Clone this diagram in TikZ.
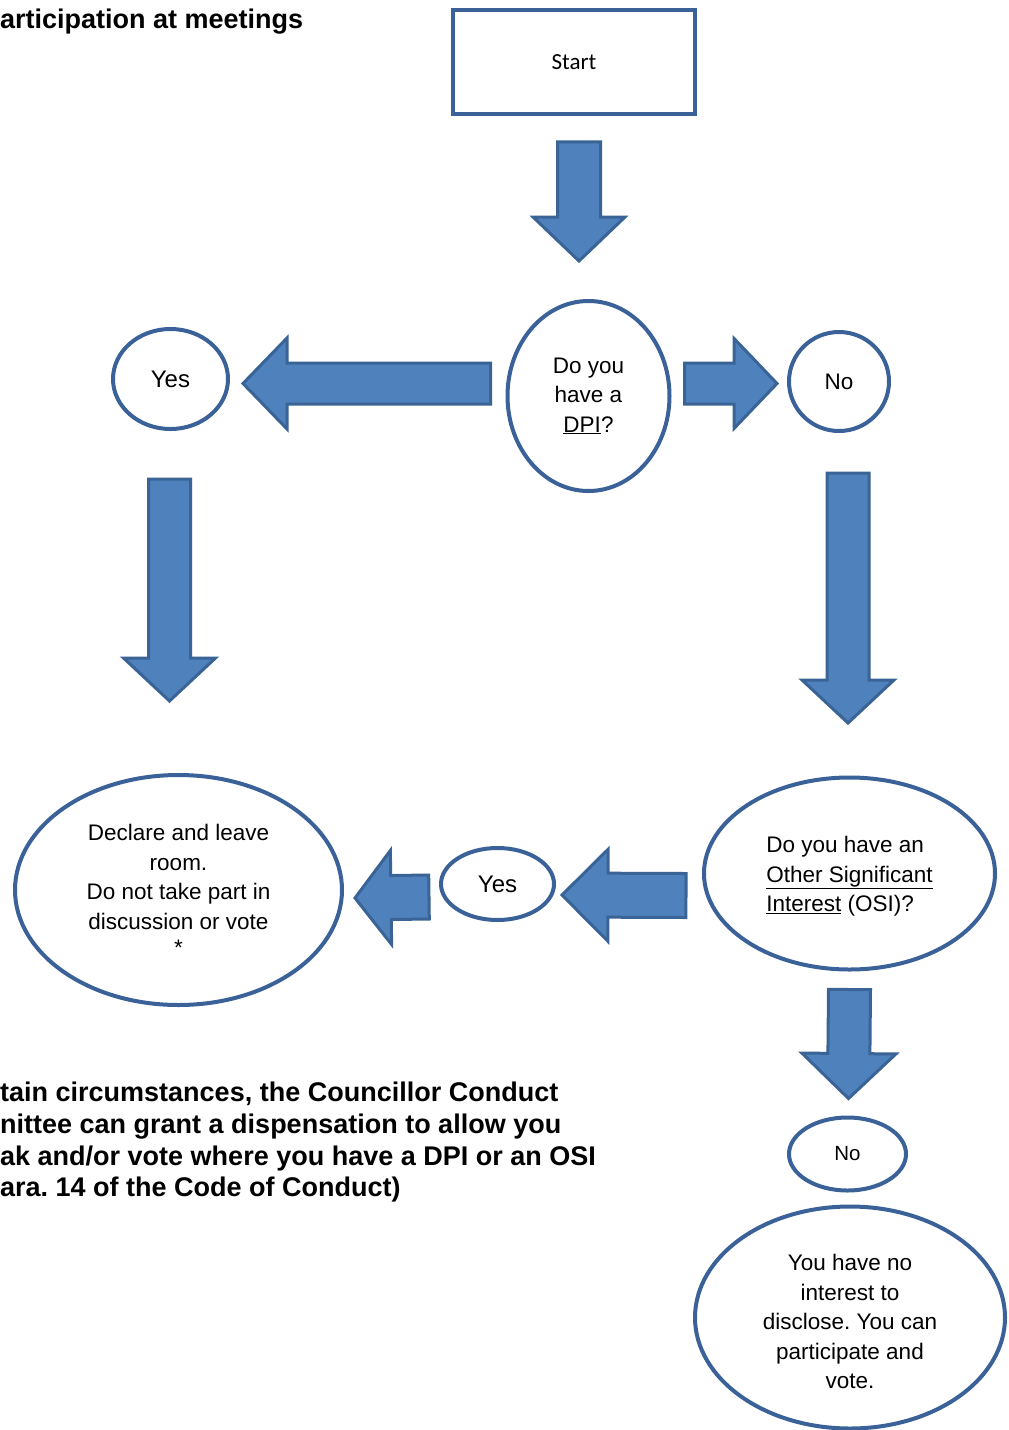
\documentclass[tikz,border=0pt]{standalone}
\usepackage{fontspec}
\setmainfont{Liberation Sans}
\newfontfamily\calibrifont{Carlito}
\usetikzlibrary{calc,shapes.geometric}
\frenchspacing
\definecolor{arrowblue}{HTML}{4F81BD}
\definecolor{arrowedge}{HTML}{3A6496}
\definecolor{ringblue}{HTML}{3A6298}
\tikzset{
  bub/.style={ellipse, draw=ringblue, line width=4pt, fill=white, inner sep=0pt, align=center,
    font=\fontsize{22.5}{29.5}\selectfont},
  startbox/.style={rectangle, draw=ringblue, line width=3.8pt, fill=white, inner sep=0pt,
    font=\calibrifont\fontsize{23}{28}\selectfont},
  barrowstyle/.style={fill=arrowblue, draw=arrowedge, line width=3pt, line join=miter},
  boldtext/.style={inner sep=0pt, align=left, font=\bfseries\fontsize{27}{31.7}\selectfont}
}
% #1 tail, #2 tip, #3 shaft half width, #4 head half width, #5 head length
\newcommand\blockarrow[5]{%
  \coordinate (hb) at ($(#2)!#5!(#1)$);
  \draw[barrowstyle] ($(#1)!#3!90:(#2)$) -- ($(hb)!#3!90:(#2)$) -- ($(hb)!#4!90:(#2)$) -- (#2)
    -- ($(hb)!#4!-90:(#2)$) -- ($(hb)!#3!-90:(#2)$) -- ($(#1)!#3!-90:(#2)$) -- cycle;}
\begin{document}
\begin{tikzpicture}[x=1pt,y=-1pt]
\useasboundingbox (0,0) rectangle (1009,1430);
\fill[white] (0,0) rectangle (1009,1430);

% headings
\node[boldtext, anchor=base west] (title) at (0,28) {articipation at meetings};
\node[boldtext, anchor=north west] (note) at (0,1082) {tain circumstances, the Councillor Conduct\\
nittee can grant a dispensation to allow you\\
ak and/or vote where you have a DPI or an OSI\\
ara. 14 of the Code of Conduct)};

% nodes
\node[startbox, minimum width=242pt, minimum height=104pt] (start) at (574,62) {Start};
\node[bub, minimum width=162pt, minimum height=190pt] (dpi) at (588.5,396) {Do you\\have a\\\underline{DPI}?};
\node[bub, minimum width=115pt, minimum height=100pt, font=\fontsize{24}{28}\selectfont] (yes1) at (170.5,379) {Yes};
\node[bub, minimum width=100pt, minimum height=99pt, font=\fontsize{22.5}{28}\selectfont] (no1) at (839,381.5) {No};
\node[bub, minimum width=327pt, minimum height=230pt] (declare) at (178.5,890) {Declare and leave\\room.\\Do not take part in\\discussion or vote\\[-3pt]*};
\node[bub, minimum width=113pt, minimum height=72pt, font=\fontsize{24}{28}\selectfont] (yes2) at (497.5,884) {Yes};
\node[bub, minimum width=291pt, minimum height=192pt, align=left] (osi) at (849.5,873.5) {\rule{0pt}{22.5pt}Do you have an\\\underline{Other Significant}\\\underline{Interest} (OSI)?};
\node[bub, minimum width=117pt, minimum height=73pt, font=\fontsize{20.5}{26}\selectfont] (no2) at (847.5,1154) {No};
\node[bub, minimum width=310pt, minimum height=222pt] (final) at (850,1317.5) {\rule{0pt}{24.5pt}You have no\\interest to\\disclose. You can\\participate and\\vote.};

% arrow end points
\coordinate (a1t) at ($(start.south)+(5,26)$);
\coordinate (a1h) at ($(dpi.north)+(-9.5,-38)$);
\coordinate (a2t) at ($(dpi.west)+(-15,-12.5)$);
\coordinate (a2h) at ($(yes1.east)+(13,4.5)$);
\coordinate (a3t) at ($(dpi.east)+(13,-12.5)$);
\coordinate (a3h) at ($(no1.west)+(-10,2)$);
\coordinate (a4t) at ($(yes1.south)+(-1,48)$);
\coordinate (a4h) at ($(yes1.south)+(-1,270)$);
\coordinate (a5t) at ($(no1.south)+(9,40)$);
\coordinate (a5h) at ($(no1.south)+(9,290)$);
\coordinate (a6t) at ($(osi.west)+(-16,22)$);
\coordinate (a6h) at ($(yes2.east)+(6,11)$);
\coordinate (a7t) at ($(yes2.west)+(-10,13)$);
\coordinate (a7h) at ($(declare.east)+(11,8)$);
\coordinate (a8t) at ($(osi.south)+(0,18)$);
\coordinate (a8h) at ($(no2.north)+(1,-17)$);

% block arrows
\blockarrow{a1t}{a1h}{21.5pt}{46pt}{44pt}
\blockarrow{a2t}{a2h}{20.5pt}{45.5pt}{44pt}
\blockarrow{a3t}{a3h}{20.5pt}{45pt}{43pt}
\blockarrow{a4t}{a4h}{21pt}{46pt}{43pt}
\blockarrow{a5t}{a5h}{21pt}{46pt}{43pt}
\blockarrow{a6t}{a6h}{22pt}{46pt}{46pt}
\blockarrow{a7t}{a7h}{22pt}{47pt}{36pt}
\blockarrow{a8t}{a8h}{21pt}{47pt}{45pt}
\end{tikzpicture}
\end{document}
